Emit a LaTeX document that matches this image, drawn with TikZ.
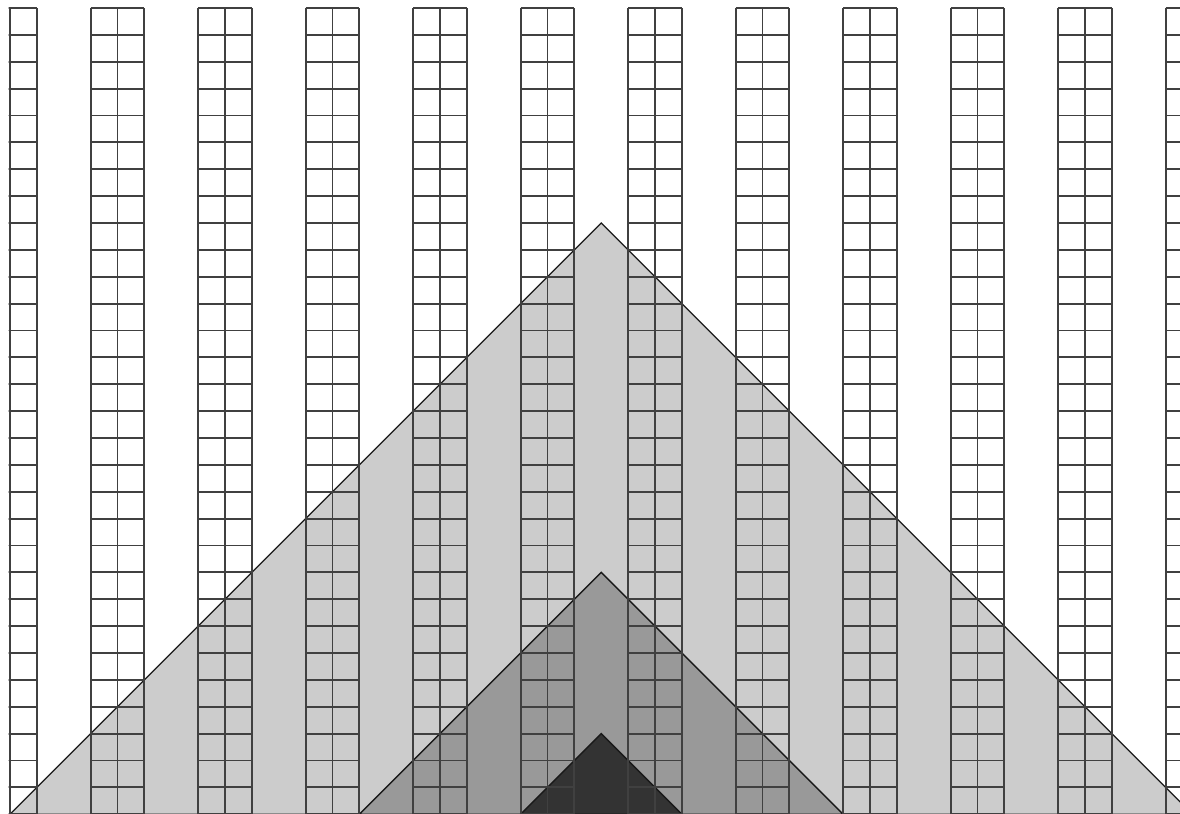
\documentclass[tikz,border=0pt]{standalone}

\begin{document}
\begin{tikzpicture}[x=1cm,y=1cm]
   \tikzstyle{gridcol}=[draw=black!75,line width=2pt]
   \tikzstyle{layer}=[draw=black!90,line width=1.4pt]

   \useasboundingbox (-0.372,0.046) rectangle (43.535,30.298) ;
   \clip (-0.05,0.046) rectangle (43.535,30.298) ;

   \coordinate (top1) at (22,22) ;
   \coordinate (top2) at (22,9) ;
   \coordinate (top3) at (22,3) ;
   \filldraw [layer,fill=black!20] (0,0) -- (top1) -- (44,0) -- cycle ;
   \filldraw [layer,fill=black!40] (13,0) -- (top2) -- (31,0) -- cycle ;
   \filldraw [layer,fill=black!80] (19,0) -- (top3) -- (25,0) -- cycle ;

   \foreach \k in {0,...,11}
      \draw [gridcol] (4*\k-1,0) grid (4*\k+1,30) ;
\end{tikzpicture}
\end{document}
